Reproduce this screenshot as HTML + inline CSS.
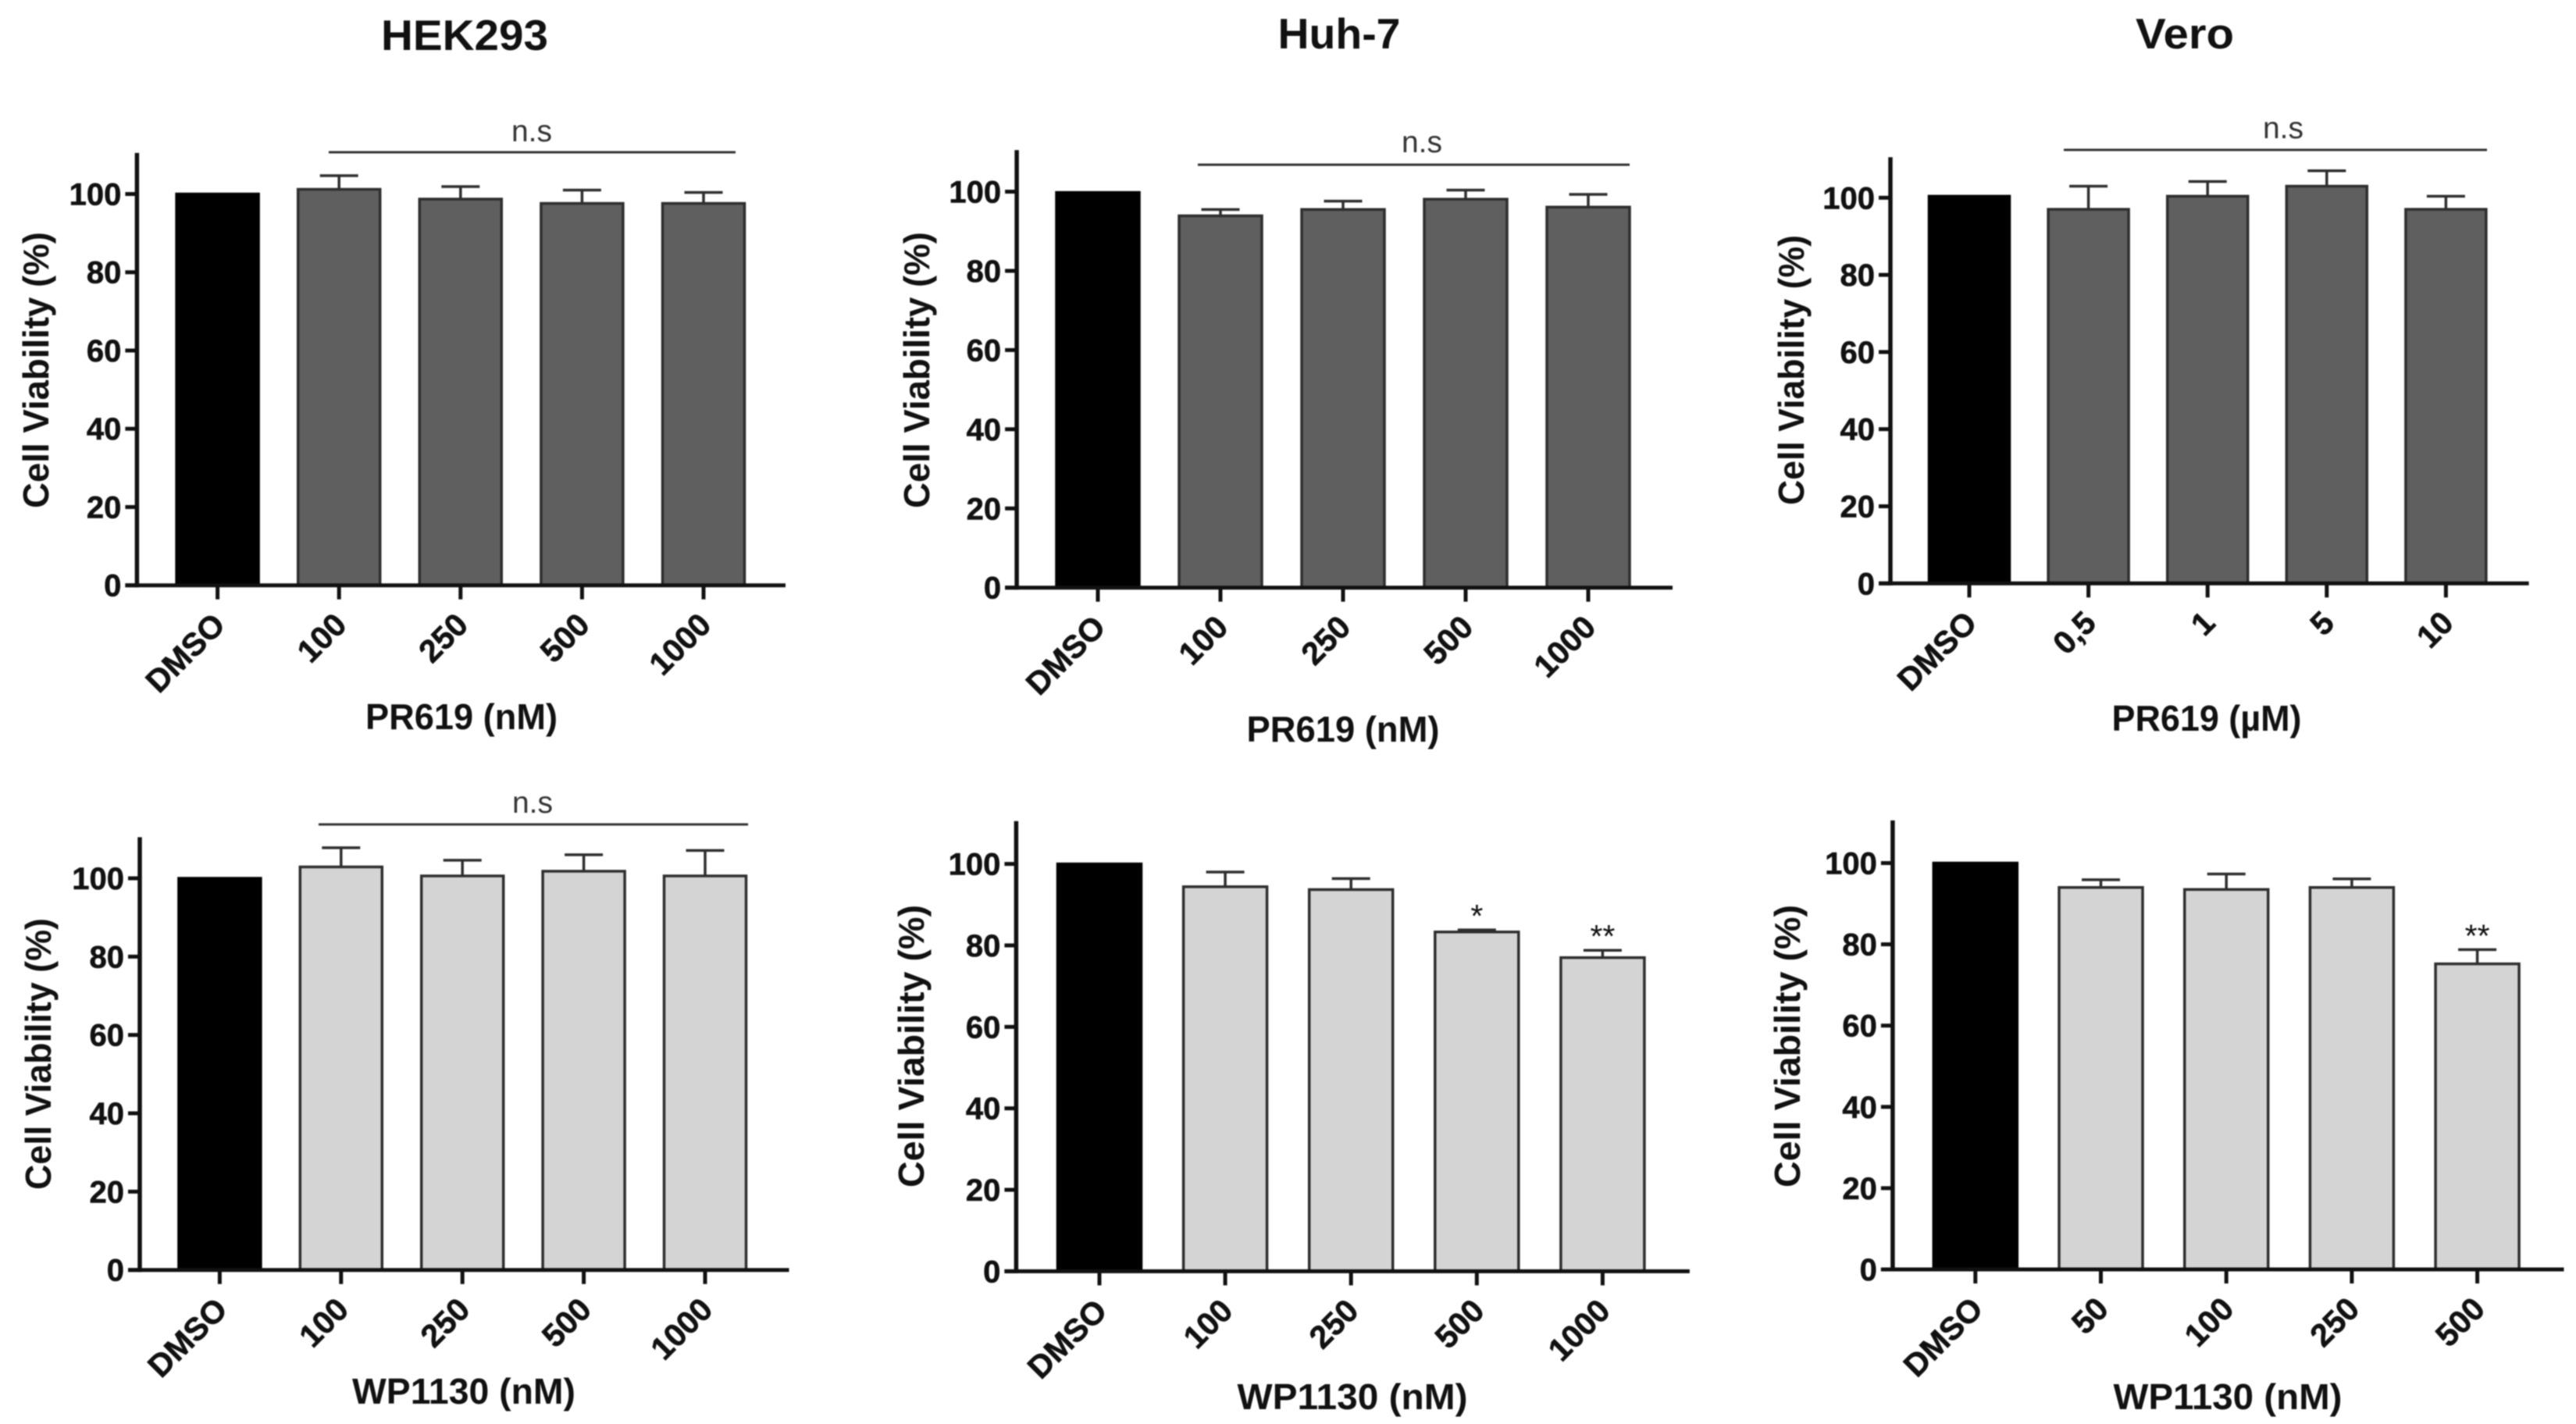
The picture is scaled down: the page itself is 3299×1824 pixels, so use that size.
<!DOCTYPE html>
<html lang="en">
<head>
<meta charset="utf-8">
<title>Cell viability charts</title>
<style>
html,body{margin:0;padding:0;background:#fff;width:3299px;height:1824px;overflow:hidden}
svg{display:block;filter:blur(0.8px)}
text{font-family:"Liberation Sans",Arial,sans-serif;fill:#111}
.title{font-size:55px;font-weight:bold;text-anchor:middle}
.axis-title{font-size:46px;font-weight:bold;text-anchor:middle}
.ns{font-size:39px;text-anchor:middle;fill:#333}
.ns-line{stroke:#333;stroke-width:3}
.tick-text{stroke:#111;stroke-width:0.6px;font-weight:bold}
</style>
</head>
<body>
<svg id="figure" xmlns="http://www.w3.org/2000/svg" width="3299" height="1824" viewBox="0 0 3299 1824">
  <rect width="3299" height="1824" fill="#fff"/>

  <g id="p1">
    <text class="title" x="595" y="64" textLength="214" lengthAdjust="spacingAndGlyphs">HEK293</text>
    <text class="axis-title" transform="translate(62,474) rotate(-90)" textLength="354" lengthAdjust="spacingAndGlyphs">Cell Viability (%)</text>
    <text class="axis-title" x="591" y="934" textLength="246" lengthAdjust="spacingAndGlyphs">PR619 (nM)</text>
    <line class="ns-line" x1="421" x2="942" y1="195" y2="195"/>
    <text class="ns" x="681" y="181">n.s</text>
  </g>

  <g id="p2">
    <text class="title" x="1715" y="62" textLength="157" lengthAdjust="spacingAndGlyphs">Huh-7</text>
    <text class="axis-title" transform="translate(1190,474) rotate(-90)" textLength="354" lengthAdjust="spacingAndGlyphs">Cell Viability (%)</text>
    <text class="axis-title" x="1720" y="950" textLength="247" lengthAdjust="spacingAndGlyphs">PR619 (nM)</text>
    <line class="ns-line" x1="1534" x2="2087" y1="211" y2="211"/>
    <text class="ns" x="1821" y="195">n.s</text>
  </g>

  <g id="p3">
    <text class="title" x="2798" y="62" textLength="126" lengthAdjust="spacingAndGlyphs">Vero</text>
    <text class="axis-title" transform="translate(2310,474) rotate(-90)" textLength="346" lengthAdjust="spacingAndGlyphs">Cell Viability (%)</text>
    <text class="axis-title" x="2826" y="936" textLength="243" lengthAdjust="spacingAndGlyphs">PR619 (µM)</text>
    <line class="ns-line" x1="2643" x2="3185" y1="192" y2="192"/>
    <text class="ns" x="2924" y="177">n.s</text>
  </g>

  <g id="p4">
    <text class="axis-title" transform="translate(65,1350) rotate(-90)" textLength="348" lengthAdjust="spacingAndGlyphs">Cell Viability (%)</text>
    <text class="axis-title" x="594" y="1798" textLength="286" lengthAdjust="spacingAndGlyphs">WP1130 (nM)</text>
    <line class="ns-line" x1="408" x2="958" y1="1056" y2="1056"/>
    <text class="ns" x="682" y="1041">n.s</text>
  </g>

  <g id="p5">
    <text class="axis-title" transform="translate(1183,1340) rotate(-90)" textLength="362" lengthAdjust="spacingAndGlyphs">Cell Viability (%)</text>
    <text class="axis-title" x="1732" y="1805" textLength="295" lengthAdjust="spacingAndGlyphs">WP1130 (nM)</text>
  </g>

  <g id="p6">
    <text class="axis-title" transform="translate(2305,1340) rotate(-90)" textLength="362" lengthAdjust="spacingAndGlyphs">Cell Viability (%)</text>
    <text class="axis-title" x="2853" y="1805" textLength="293" lengthAdjust="spacingAndGlyphs">WP1130 (nM)</text>
  </g>
</svg>

<script>
// ---- chart data ----
const yTicks = [0, 20, 40, 60, 80, 100];
const yAxisMax = 110.5;

const categoriesP1 = ['DMSO', '100', '250', '500', '1000'];
const valuesP1 = [100, 101.2, 98.7, 97.6, 97.6];
const errorsP1 = [0, 3.5, 3.2, 3.4, 2.8];
const marksP1 = ['', '', '', '', ''];

const categoriesP2 = ['DMSO', '100', '250', '500', '1000'];
const valuesP2 = [99.8, 93.9, 95.5, 98.1, 96.1];
const errorsP2 = [0, 1.6, 2.1, 2.3, 3.2];
const marksP2 = ['', '', '', '', ''];

const categoriesP3 = ['DMSO', '0,5', '1', '5', '10'];
const valuesP3 = [100.4, 97, 100.4, 103, 97];
const errorsP3 = [0, 6, 3.8, 4, 3.4];
const marksP3 = ['', '', '', '', ''];

const categoriesP4 = ['DMSO', '100', '250', '500', '1000'];
const valuesP4 = [100, 102.9, 100.6, 101.8, 100.6];
const errorsP4 = [0, 4.9, 4, 4.2, 6.5];
const marksP4 = ['', '', '', '', ''];

const categoriesP5 = ['DMSO', '100', '250', '500', '1000'];
const valuesP5 = [100, 94.4, 93.7, 83.3, 77];
const errorsP5 = [0, 3.6, 2.7, 0.5, 1.8];
const marksP5 = ['', '', '', '*', '**'];

const categoriesP6 = ['DMSO', '50', '100', '250', '500'];
const valuesP6 = [100, 94, 93.5, 94, 75.2];
const errorsP6 = [0, 1.9, 3.8, 2.1, 3.5];
const marksP6 = ['', '', '', '', '**'];

// ---- drawing ----
const NS = 'http://www.w3.org/2000/svg';
function make(parent, tag, attrs, text) {
  const el = document.createElementNS(NS, tag);
  for (const k in attrs) el.setAttribute(k, attrs[k]);
  if (text !== undefined) el.textContent = text;
  parent.appendChild(el);
  return el;
}

function drawPanel(id, frame, categories, values, errors, marks) {
  const root = document.getElementById(id);
  const yScale = v => frame.y0 - v * (frame.y0 - frame.y100) / 100;
  const xScale = i => frame.xFirst + i * frame.xStep;
  const half = frame.barWidth / 2;

  categories.forEach((cat, i) => {
    const cx = xScale(i);
    const top = yScale(values[i]);
    const isControl = i === 0;
    const bar = make(root, 'rect', {
      x: cx - half, y: top, width: frame.barWidth, height: frame.y0 - top,
      fill: isControl ? '#000' : frame.fill,
      stroke: isControl ? '#000' : '#2e2e2e',
      'stroke-width': 3.5
    });
    
    

    if (errors[i] > 0) {
      const errTop = yScale(values[i] + errors[i]);
      const err = make(root, 'path', {
        d: 'M' + cx + ' ' + top + 'V' + errTop + 'M' + (cx - 24.5) + ' ' + errTop + 'H' + (cx + 24.5),
        fill: 'none', stroke: '#2e2e2e', 'stroke-width': 3.5
      });
      
      
    }

    if (marks[i]) {
      const errTop = yScale(values[i] + errors[i]);
      const mark = make(root, 'text', {
        x: cx, y: errTop - 4, 'text-anchor': 'middle', 'font-size': 41
      }, marks[i]);
      
      
    }

    const tick = make(root, 'line', {
      x1: cx, x2: cx, y1: frame.y0, y2: frame.y0 + 18, stroke: '#111', 'stroke-width': 5
    });
    
    

    const lx = cx + 12;
    const ly = frame.y0 + 53;
    const label = make(root, 'text', {
      class: 'tick-text',
      x: lx, y: ly, 'text-anchor': 'end', 'font-size': 41,
      transform: 'rotate(-45 ' + lx + ' ' + ly + ')'
    }, cat);
    
    
  });

  const yAxis = make(root, 'line', {
    x1: frame.xAxis, x2: frame.xAxis, y1: yScale(yAxisMax), y2: frame.y0 + 2.5, stroke: '#111', 'stroke-width': 5.5
  });
  
  

  const xAxis = make(root, 'line', {
    x1: frame.xAxis - 15, x2: frame.xEnd, y1: frame.y0, y2: frame.y0, stroke: '#111', 'stroke-width': 5
  });
  
  

  yTicks.forEach(v => {
    const y = yScale(v);
    const tick = make(root, 'line', {
      x1: frame.xAxis - 15, x2: frame.xAxis, y1: y, y2: y, stroke: '#111', 'stroke-width': 5
    });
    
    

    const label = make(root, 'text', {
      class: 'tick-text',
      x: frame.xAxis - 20, y: y + 14, 'text-anchor': 'end', 'font-size': 40
    }, String(v));
    
    
  });
}

const dark = '#5f5f5f';
const light = '#d4d4d4';
drawPanel('p1', {xAxis: 175.4, xEnd: 1006, y0: 749.7, y100: 248.5, xFirst: 278.6, xStep: 155.6, barWidth: 105, fill: dark}, categoriesP1, valuesP1, errorsP1, marksP1);
drawPanel('p2', {xAxis: 1302.1, xEnd: 2142, y0: 752.7, y100: 245.5, xFirst: 1406, xStep: 157, barWidth: 106, fill: dark}, categoriesP2, valuesP2, errorsP2, marksP2);
drawPanel('p3', {xAxis: 2421, xEnd: 3238.6, y0: 747.3, y100: 253.3, xFirst: 2522, xStep: 152.6, barWidth: 103, fill: dark}, categoriesP3, valuesP3, errorsP3, marksP3);
drawPanel('p4', {xAxis: 179, xEnd: 1010.5, y0: 1626.7, y100: 1125, xFirst: 281.4, xStep: 155.4, barWidth: 105, fill: light}, categoriesP4, valuesP4, errorsP4, marksP4);
drawPanel('p5', {xAxis: 1301.4, xEnd: 2163.9, y0: 1628.4, y100: 1106.6, xFirst: 1408, xStep: 161.1, barWidth: 107, fill: light}, categoriesP5, valuesP5, errorsP5, marksP5);
drawPanel('p6', {xAxis: 2423.9, xEnd: 3283.5, y0: 1626, y100: 1105.5, xFirst: 2529.8, xStep: 160.7, barWidth: 107, fill: light}, categoriesP6, valuesP6, errorsP6, marksP6);
</script>
</body>
</html>
